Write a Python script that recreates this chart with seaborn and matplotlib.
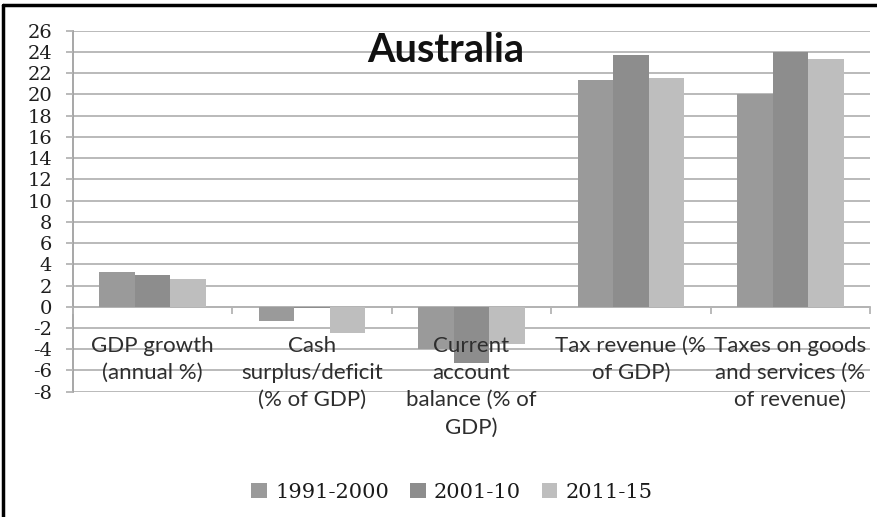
import pandas as pd
import numpy as np
import matplotlib
matplotlib.use("Agg")
import matplotlib.pyplot as plt
from matplotlib.lines import Line2D
from matplotlib.ticker import FixedLocator
import seaborn as sns

# ---- data ----
categories = [
    "GDP growth\n(annual %)",
    "Cash\nsurplus/deficit\n(% of GDP)",
    "Current\naccount\nbalance (% of\nGDP)",
    "Tax revenue (%\nof GDP)",
    "Taxes on goods\nand services (%\nof revenue)",
]
periods = ["1991-2000", "2001-10", "2011-15"]
vals_1991_2000 = [3.3, -1.35, -4.0, 21.35, 20.0]
vals_2001_10 = [3.0, -0.1, -5.3, 23.7, 23.95]
vals_2011_15 = [2.6, -2.45, -3.5, 21.5, 23.3]
bar_colors = ["#9a9a9a", "#8d8d8d", "#bebebe"]
y_ticks = list(range(-8, 27, 2))

rows = []
for p, vals in zip(periods, [vals_1991_2000, vals_2001_10, vals_2011_15]):
    for c, v in zip(categories, vals):
        rows.append({"category": c, "period": p, "value": v})
df = pd.DataFrame(rows)

sns.set_style("white")
plt.rcParams["axes.unicode_minus"] = False

fig = plt.figure(figsize=(8.78, 5.17), dpi=100)
ax = fig.add_axes([73 / 878, 1 - 391.7 / 517, 797 / 878, (391.7 - 30.7) / 517])

sns.barplot(data=df, x="category", y="value", hue="period", order=categories,
            hue_order=periods, palette=bar_colors, width=0.67, saturation=1,
            edgecolor="none", linewidth=0, ax=ax, zorder=1)

grid_c = "#b4b4b4"
ax.set_ylim(-8, 26)
ax.set_xlim(-0.5, 4.5)
ax.set_yticks(y_ticks)
# gridlines behind the bars, axis labels on top of them
ax.grid(False)
ax.hlines(y_ticks, -0.5, 4.5, color=grid_c, linewidth=1.3, zorder=0)
ax.set_axisbelow(False)
ax.set_xlabel("")
ax.set_ylabel("")

# x axis sits on zero like the original
for s in ["top", "right"]:
    ax.spines[s].set_visible(False)
ax.spines["bottom"].set_position(("data", 0))
ax.spines["bottom"].set_color(grid_c)
ax.spines["bottom"].set_linewidth(1.3)
ax.spines["bottom"].set_zorder(0)
ax.spines["left"].set_color("#a0a0a0")
ax.spines["left"].set_linewidth(1.3)

ax.tick_params(axis="y", length=5, width=1.3, color=grid_c, pad=10,
               labelsize=14, labelcolor="#1e1e1e", left=True)
for t in ax.get_yticklabels():
    t.set_fontfamily("DejaVu Serif")

ax.xaxis.set_minor_locator(FixedLocator(np.arange(-0.5, 5, 1)))
ax.tick_params(axis="x", which="major", length=0, pad=21, labelsize=16,
               labelcolor="#2e2e2e")
ax.tick_params(axis="x", which="minor", length=5, width=1.3, color=grid_c,
               bottom=True, direction="out")
for t in ax.get_xticklabels():
    t.set_fontfamily("Lato")
    t.set_linespacing(1.45)

fig.text(446 / 878, 1 - 62 / 517, "Australia", ha="center", va="baseline",
         fontsize=28.5, fontfamily="Lato", fontweight="bold", color="#111111")

leg = ax.legend(loc="center", bbox_to_anchor=(452 / 878, 1 - 492 / 517),
                bbox_transform=fig.transFigure, ncol=3, frameon=False,
                handlelength=0.75, handleheight=0.75, handletextpad=0.4,
                columnspacing=1.0, prop={"family": "DejaVu Serif", "size": 15})
for t in leg.get_texts():
    t.set_color("#1a1a1a")

# black frame lines at top and left
fig.add_artist(Line2D([3 / 878, 1], [1 - 5 / 517, 1 - 5 / 517], color="black", linewidth=2.5,
                      transform=fig.transFigure))
fig.add_artist(Line2D([3 / 878, 3 / 878], [0, 1 - 5 / 517], color="black", linewidth=2.5,
                      transform=fig.transFigure))

fig.savefig("out.png", dpi=100)
